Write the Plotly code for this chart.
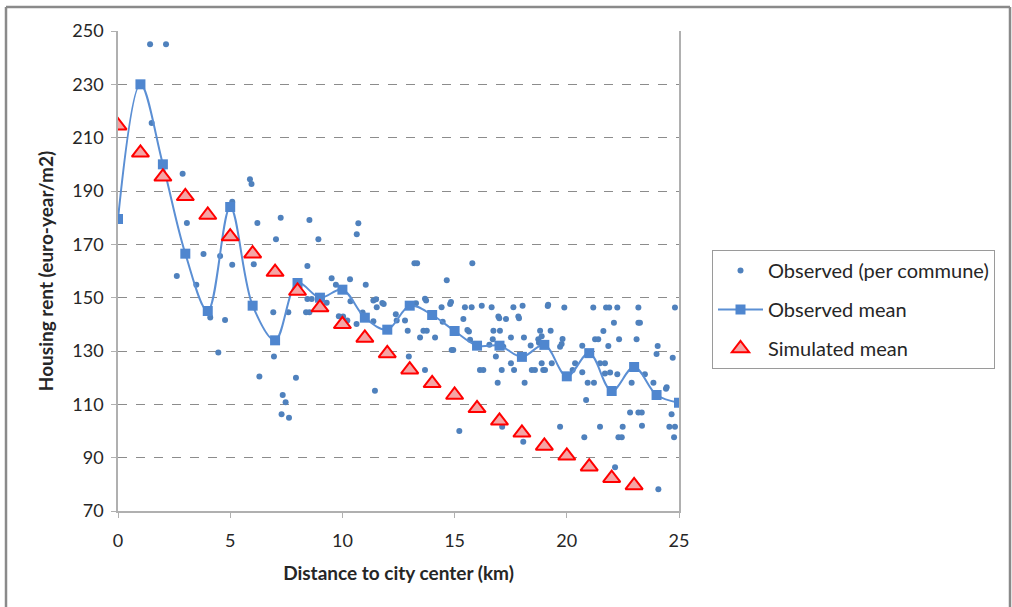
import plotly.graph_objects as go

# Observed (per commune) scatter points
obs_x = [1.43, 2.14, 1.50, 2.88, 3.07, 2.62, 3.49, 3.81, 4.11, 4.77, 4.47, 4.55, 5.09, 5.09,
         5.88, 5.95, 6.21, 6.05, 6.30, 7.25, 7.04, 7.03, 6.92, 6.95, 7.34, 7.47, 7.29, 7.62, 7.93, 7.59,
         8.53, 8.93, 8.44, 8.44, 8.63, 8.38, 8.53, 8.95, 9.30, 9.52, 9.71, 9.84, 10.03,
         10.34, 10.71, 10.64, 11.04, 10.36, 10.22, 10.63, 10.90, 11.38, 11.50, 11.78, 11.84, 11.53, 11.38,
         11.45, 12.38, 12.42, 12.79, 12.91, 12.96, 13.21, 13.33, 13.28, 13.68, 13.73, 13.61, 13.76, 13.46,
         13.68, 14.13, 14.42, 14.47, 14.65, 14.80, 14.84, 14.87, 14.94,
         15.79, 15.21, 15.39, 15.46, 15.76, 15.57, 15.64, 15.69, 16.21, 16.13, 16.28, 16.65, 16.73, 17.02,
         16.70, 16.55, 16.84, 16.92, 16.95, 16.99, 17.29, 17.17, 17.10, 17.12, 17.51, 17.51, 17.65, 17.62,
         17.84, 17.87, 18.03, 18.09, 18.12, 18.06, 18.39, 18.44, 18.58, 18.95, 19.03, 18.73, 18.81, 18.88,
         18.76, 18.88, 19.15, 19.17, 19.28, 19.33, 19.70, 19.77, 19.81, 19.89, 19.70,
         20.26, 20.37, 20.69, 20.69, 20.78, 20.86, 20.93, 21.21, 21.18, 21.26, 21.40, 21.48, 21.70, 21.48,
         21.63, 21.75, 21.89, 21.85, 21.70, 21.93, 22.10, 22.25, 22.25, 22.33, 22.30, 22.45, 22.49, 22.15,
         22.82, 22.89, 23.19, 23.19, 23.26, 23.11, 23.19, 23.34, 23.35, 23.48, 23.86, 24.05, 24.00, 24.08,
         24.45, 24.42, 24.57, 24.82, 24.78, 24.67, 24.72, 24.82]
obs_y = [245.0, 245.0, 215.5, 196.5, 178.0, 158.1, 154.8, 166.4, 142.6, 141.6, 129.4, 165.6, 186.0, 162.3,
         194.4, 192.6, 178.0, 162.5, 120.4, 180.0, 171.9, 160.1, 144.5, 127.9, 113.5, 110.8, 106.3, 105.0, 120.0, 144.5,
         179.1, 171.9, 161.9, 149.5, 149.5, 144.5, 144.5, 146.2, 148.1, 157.3, 154.8, 143.0, 142.9,
         156.9, 177.9, 173.8, 154.8, 148.7, 141.4, 140.1, 144.4, 148.9, 149.4, 148.0, 147.6, 146.4, 141.2,
         115.1, 143.8, 141.4, 141.4, 137.6, 127.9, 162.9, 162.9, 147.9, 149.6, 148.9, 137.6, 137.6, 135.1,
         122.9, 135.1, 146.4, 141.0, 156.5, 147.6, 148.4, 130.4, 130.4,
         162.9, 100.0, 142.0, 146.4, 146.4, 137.9, 137.3, 134.2, 147.0, 122.9, 122.9, 146.4, 137.6, 137.6,
         134.4, 132.3, 127.9, 118.1, 142.9, 142.3, 142.0, 131.6, 122.9, 101.6, 135.1, 125.4, 122.9, 146.4,
         142.9, 142.3, 147.0, 135.1, 118.1, 96.0, 132.1, 122.9, 122.9, 122.9, 122.9, 134.4, 137.6, 135.5,
         133.1, 125.4, 146.9, 147.3, 137.6, 125.4, 131.6, 132.6, 134.5, 146.3, 101.6,
         122.9, 125.4, 132.0, 122.0, 97.7, 111.6, 118.1, 118.1, 146.3, 134.4, 134.4, 125.4, 125.4, 101.6,
         137.5, 146.3, 146.3, 131.9, 121.6, 121.9, 140.6, 146.3, 121.3, 134.4, 97.7, 97.7, 101.6, 86.4,
         106.9, 118.1, 146.3, 140.6, 140.6, 134.4, 106.9, 106.9, 102.0, 121.3, 118.1, 131.9, 128.9, 78.2,
         116.4, 115.8, 101.6, 101.6, 97.7, 106.3, 127.5, 146.3]

# Observed mean per km
mean_x = list(range(0, 26))
mean_y = [179.5, 230.0, 200.0, 166.5, 145.0, 184.0, 147.0, 134.0, 155.5, 150.0, 153.0, 142.5, 138.0,
          147.0, 143.5, 137.5, 132.0, 132.0, 127.8, 132.3, 120.5, 129.2, 115.0, 124.0, 113.5, 110.6]

# Simulated mean per km
sim_x = list(range(0, 24))
sim_y = [214.5, 204.3, 195.3, 188.0, 181.0, 172.9, 166.5, 159.6, 152.5, 146.3, 140.0, 134.9, 129.1,
         123.0, 117.9, 113.5, 108.5, 103.8, 99.3, 94.4, 90.7, 86.6, 82.3, 79.6]

x_ticks = [0, 5, 10, 15, 20, 25]
y_ticks = [70, 90, 110, 130, 150, 170, 190, 210, 230, 250]

BLUE = "#4F81BD"
FONT = "Lato"
TXT = "#262626"

fig = go.Figure()
fig.add_trace(go.Scatter(
    x=obs_x, y=obs_y, mode="markers", name="Observed (per commune)",
    marker=dict(symbol="circle", size=6, color=BLUE),
    legendgroup="a"))
fig.add_trace(go.Scatter(
    x=mean_x, y=mean_y, mode="lines+markers", name="Observed mean",
    line=dict(color="#5B8FD4", width=2, shape="spline", smoothing=1),
    marker=dict(symbol="square", size=10, color="#4F86CF"),
    legendgroup="b"))
fig.add_trace(go.Scatter(
    x=sim_x, y=sim_y, mode="markers", name="Simulated mean",
    marker=dict(symbol="triangle-up", size=15, color="rgba(245,165,165,1)",
                line=dict(color="#FF0000", width=2)),
    legendgroup="c"))

# outer frame (left, top, right)
PL, PR, PT, PB = 118, 679, 31, 511
def px(xp):
    return (xp - PL) / (PR - PL)
def py(yp):
    return (PB - yp) / (PB - PT)
frame_col = "#8a8a8a"
for x0, y0, x1, y1 in [(6, 7, 6, 607), (6, 7, 1010, 7), (1010, 7, 1010, 607)]:
    fig.add_shape(type="line", xref="paper", yref="paper",
                  x0=px(x0), y0=py(y0), x1=px(x1), y1=py(y1),
                  line=dict(color=frame_col, width=2.5), layer="above")

fig.update_layout(
    width=1012, height=607,
    margin=dict(l=PL, r=1012 - PR, t=PT, b=607 - PB),
    paper_bgcolor="white", plot_bgcolor="white",
    font=dict(family=FONT, color=TXT, size=18),
    showlegend=True,
    legend=dict(x=px(712), y=py(250), xanchor="left", yanchor="top",
                bordercolor="#9a9a9a", borderwidth=1,
                font=dict(family=FONT, size=20, color=TXT),
                tracegroupgap=10, itemwidth=45),
    xaxis=dict(range=[0, 25], tickvals=x_ticks, showgrid=False, zeroline=False,
               showline=True, linecolor="#b0b0b0", linewidth=1.5,
               ticks="outside", ticklen=5, tickcolor="#b0b0b0",
               ticklabelstandoff=8,
               tickfont=dict(family=FONT, size=18, color=TXT),
               title=dict(text="<b>Distance to city center (km)</b>",
                          font=dict(family=FONT, size=19, color=TXT), standoff=16)),
    yaxis=dict(range=[70, 250], tickvals=y_ticks, showgrid=True,
               gridcolor="#8c8c8c", griddash="dash", gridwidth=1, zeroline=False,
               showline=True, linecolor="#b0b0b0", linewidth=1.5, mirror=True,
               ticks="outside", ticklen=5, tickcolor="#b0b0b0",
               ticklabelstandoff=4,
               tickfont=dict(family=FONT, size=18, color=TXT),
               title=dict(text="<b>Housing rent (euro-year/m2)</b>",
                          font=dict(family=FONT, size=19, color=TXT), standoff=14)),
)

fig.write_html("out.html")
